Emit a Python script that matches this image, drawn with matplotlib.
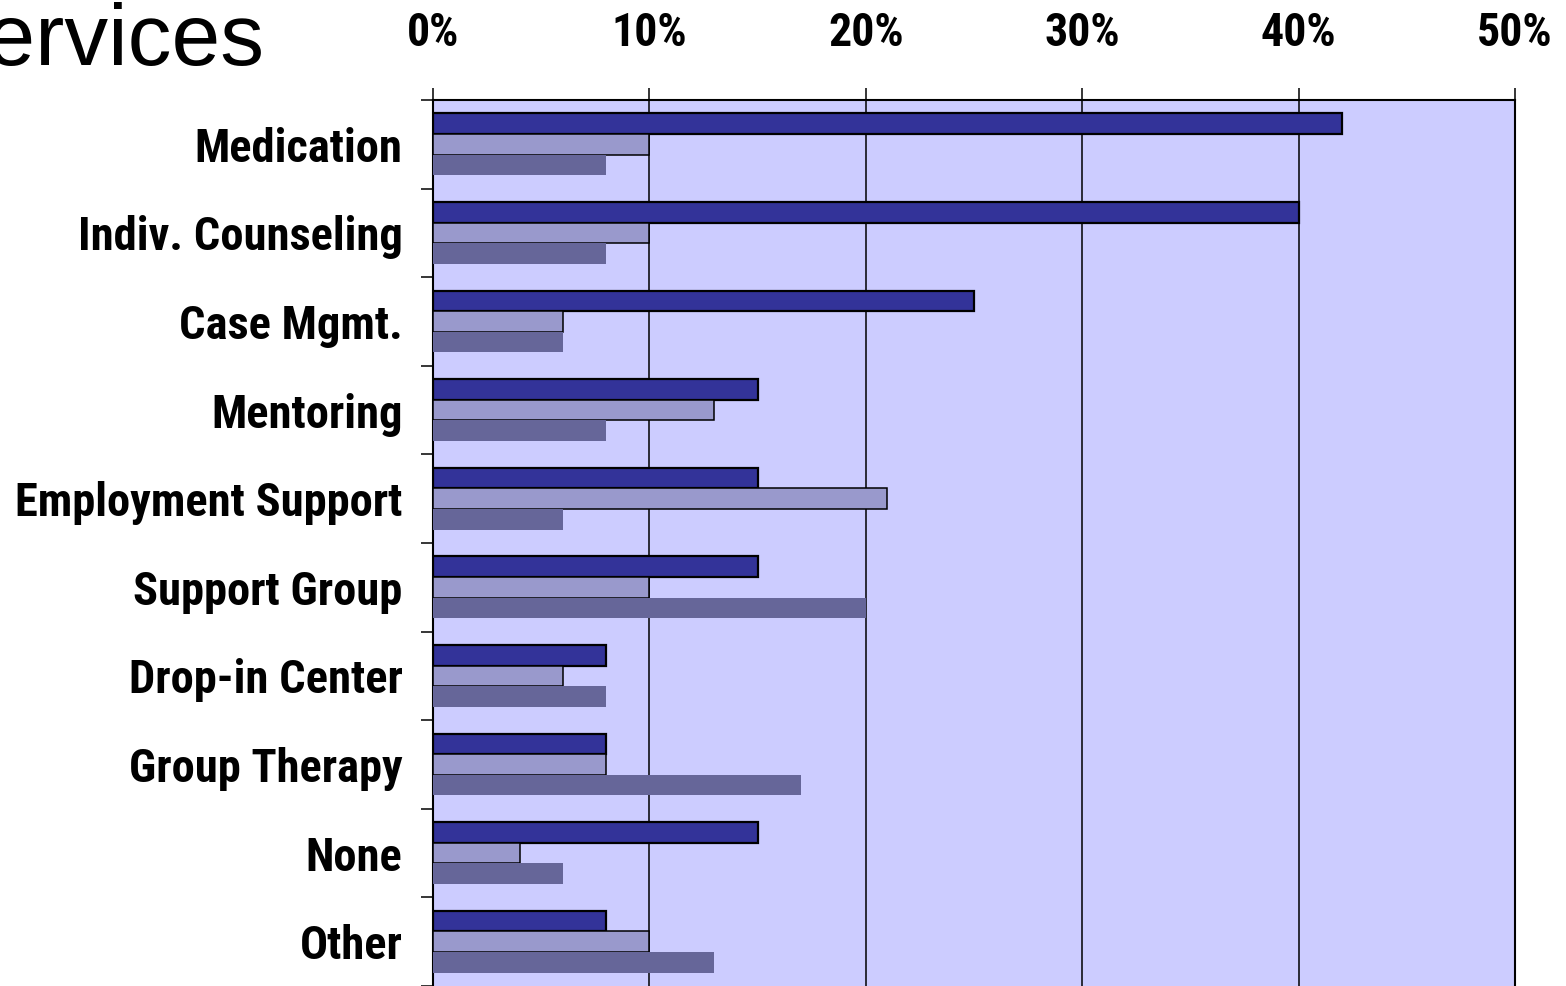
import matplotlib
matplotlib.use('Agg')
import matplotlib.pyplot as plt
import numpy as np
from matplotlib.ticker import FixedLocator, PercentFormatter

categories = ['Medication', 'Indiv. Counseling', 'Case Mgmt.', 'Mentoring',
              'Employment Support', 'Support Group', 'Drop-in Center',
              'Group Therapy', 'None', 'Other']
series_a = [42, 40, 25, 15, 15, 15, 8, 8, 15, 8]
series_b = [10, 10, 6, 13, 21, 10, 6, 8, 4, 10]
series_c = [8, 8, 6, 8, 6, 20, 8, 17, 6, 13]
x_ticks = [0, 10, 20, 30, 40, 50]

narrow = ['Roboto Condensed', 'PT Sans Narrow', 'Archivo Narrow', 'DejaVu Sans']

fig = plt.figure(figsize=(15.66, 9.86), dpi=100)
ax = fig.add_axes([433 / 1566, 0.0, (1515 - 433) / 1566, 1 - 100 / 986])
ax.set_facecolor('#CCCCFF')

y = np.arange(len(categories))
h = 0.233
ax.barh(y - h, series_a, height=h, color='#333399', edgecolor='black', linewidth=1.6, zorder=3)
ax.barh(y, series_b, height=h, color='#9999CC', edgecolor='black', linewidth=1.1, zorder=3)
ax.barh(y + h, series_c, height=h, color='#666699', linewidth=0, zorder=3)

ax.set_xlim(0, 50)
ax.set_ylim(len(categories) - 0.5, -0.5)

# x axis on top
ax.xaxis.tick_top()
ax.set_xticks(x_ticks)
ax.xaxis.set_major_formatter(PercentFormatter(decimals=0))
ax.tick_params(axis='x', direction='out', length=8.6, width=1.1, pad=24)
for lbl in ax.get_xticklabels():
    lbl.set_family(narrow)
    lbl.set_fontweight('bold')
    lbl.set_fontsize(33)
ax.xaxis.grid(True, color='black', linewidth=1.1, zorder=1)
ax.set_axisbelow(True)

# y axis: labels at centres, ticks at boundaries
ax.set_yticks(y)
ax.set_yticklabels(categories, family=narrow, fontweight='bold', fontsize=33.5)
ax.tick_params(axis='y', which='major', length=0, pad=22)
ax.yaxis.set_minor_locator(FixedLocator(np.arange(-0.5, len(categories) + 0.5, 1)))
ax.tick_params(axis='y', which='minor', direction='out', length=8.6, width=1.1)

for side in ['top', 'right', 'left']:
    ax.spines[side].set_color('black')
    ax.spines[side].set_linewidth(1.5)
ax.spines['bottom'].set_visible(False)

fig.text(264 / 1566, 1 - 65 / 986, 'Services', ha='right', va='baseline',
         fontsize=63, family=['Liberation Sans', 'DejaVu Sans'])

fig.savefig('out.png', dpi=100)
